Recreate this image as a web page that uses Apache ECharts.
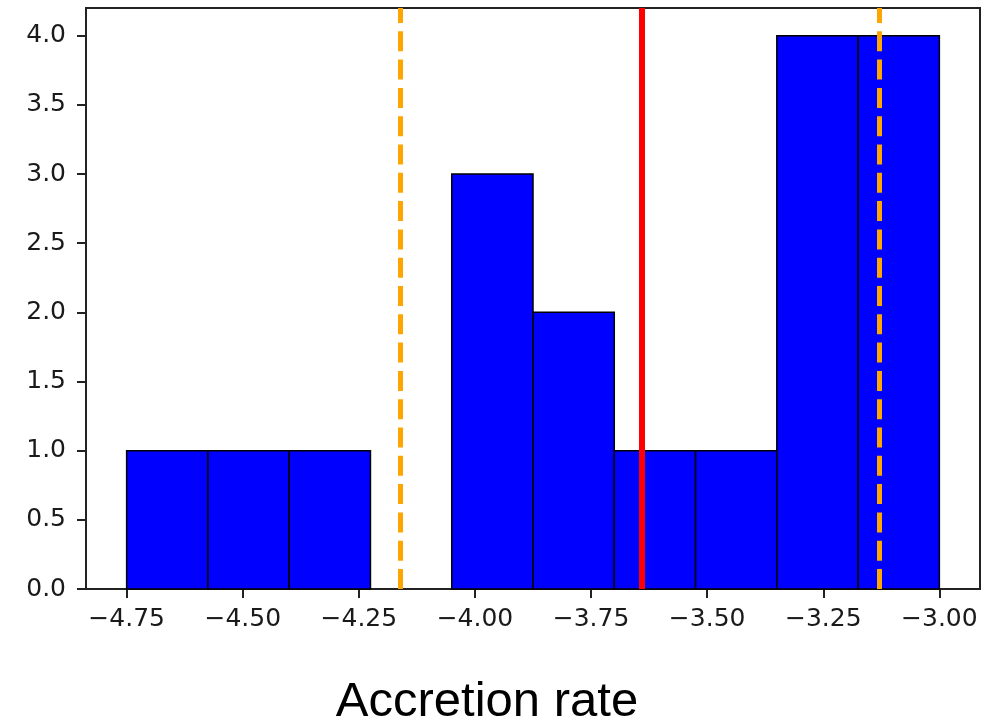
<!DOCTYPE html>
<html>
<head>
<meta charset="utf-8">
<script src="https://cdn.jsdelivr.net/npm/echarts@6/dist/echarts.min.js"></script>
<style>
html,body{margin:0;padding:0;background:#fff;}
#chart{width:982px;height:722px;}
</style>
</head>
<body>
<div id="chart"></div>
<script>
// Histogram bin edges and counts
const binEdges = [-4.75, -4.575, -4.4, -4.225, -4.05, -3.875, -3.7, -3.525, -3.35, -3.175, -3.0];
const counts = [1, 1, 1, 0, 3, 2, 1, 1, 4, 4];
// Vertical reference lines
const orangeLines = [-4.158, -3.129];
const redLines = [-3.644];
// Tick labels
const xTicks = [-4.75, -4.5, -4.25, -4.0, -3.75, -3.5, -3.25, -3.0];
const yTicks = [0, 0.5, 1.0, 1.5, 2.0, 2.5, 3.0, 3.5, 4.0];
const xTitle = 'Accretion rate';

const barData = counts.map((c, i) => [binEdges[i], binEdges[i + 1], c]);

const chart = echarts.init(document.getElementById('chart'), null, {renderer: 'canvas'});
const tickFont = {fontFamily: 'DejaVu Sans', fontSize: 25, color: '#1a1a1a'};
const fmt = v => {
  const s = Math.abs(v).toFixed(2);
  return (v < 0 ? '\u2212' : '') + s;
};
chart.setOption({
  animation: false,
  backgroundColor: '#fff',
  grid: {left: 86, top: 8, right: 2, bottom: 133, show: true, borderColor: '#222', borderWidth: 2, backgroundColor: 'transparent'},
  xAxis: {
    type: 'value',
    min: -4.8375, max: -2.9125,
    axisLine: {show: true, lineStyle: {color: '#222', width: 2}},
    splitLine: {show: false},
    axisTick: {show: true, length: 9, lineStyle: {color: '#222', width: 2}, customValues: xTicks},
    axisLabel: Object.assign({margin: 18, customValues: xTicks, formatter: v => fmt(v)}, tickFont)
  },
  yAxis: {
    type: 'value',
    min: 0, max: 4.2,
    axisLine: {show: true, lineStyle: {color: '#222', width: 2}},
    splitLine: {show: false},
    axisTick: {show: true, length: 9, lineStyle: {color: '#222', width: 2}, customValues: yTicks},
    axisLabel: Object.assign({margin: 20, customValues: yTicks, formatter: v => v.toFixed(1)}, tickFont)
  },
  graphic: [{
    type: 'text', x: 487, y: 702,
    style: {text: xTitle, font: '49px "Liberation Sans", Arial, sans-serif', fill: '#000', textAlign: 'center', textVerticalAlign: 'middle'}
  }],
  series: [{
    type: 'custom',
    data: barData,
    encode: {x: [0, 1], y: 2},
    renderItem: function (params, api) {
      const h = api.value(2);
      if (h <= 0) return null;
      const p0 = api.coord([api.value(0), 0]);
      const p1 = api.coord([api.value(1), h]);
      return {
        type: 'rect',
        shape: {x: p0[0], y: p1[1], width: p1[0] - p0[0], height: p0[1] - p1[1]},
        style: {fill: '#0000ff', stroke: '#000', lineWidth: 1.5}
      };
    },
    z: 2,
    markLine: {
      silent: true,
      symbol: 'none',
      label: {show: false},
      animation: false,
      data: orangeLines.map(v => ({xAxis: v, lineStyle: {color: '#ffa500', width: 5, type: [20, 8.3]}}))
        .concat(redLines.map(v => ({xAxis: v, lineStyle: {color: '#ff0000', width: 6, type: 'solid'}})))
    }
  }]
});
</script>
</body>
</html>
